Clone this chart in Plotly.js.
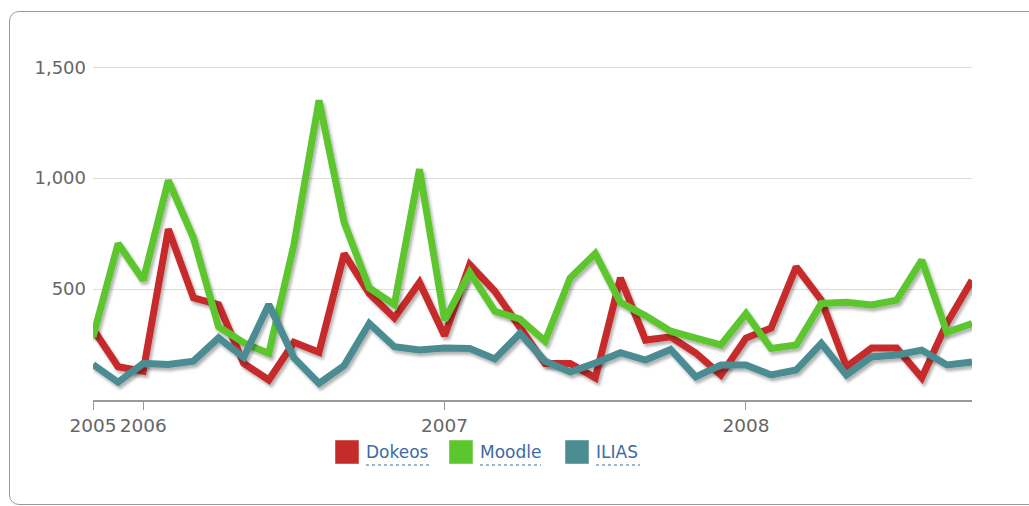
<!DOCTYPE html>
<html><head><meta charset="utf-8">
<script src="https://cdn.plot.ly/plotly-3.0.1.min.js"></script>
<style>
html,body{margin:0;padding:0;background:#fff;overflow:hidden}
#frame{position:absolute;left:9px;top:11px;width:1100px;height:494px;border:1px solid #999;border-radius:10px;box-sizing:border-box}
#chart{position:absolute;left:0;top:0;width:1029px;height:506px}
</style></head><body>
<div id="frame"></div>
<div id="chart"></div>
<script>
// ---- data ----
const months = [
  '2005-11','2005-12',
  '2006-01','2006-02','2006-03','2006-04','2006-05','2006-06','2006-07','2006-08','2006-09','2006-10','2006-11','2006-12',
  '2007-01','2007-02','2007-03','2007-04','2007-05','2007-06','2007-07','2007-08','2007-09','2007-10','2007-11','2007-12',
  '2008-01','2008-02','2008-03','2008-04','2008-05','2008-06','2008-07','2008-08','2008-09','2008-10'
];
const dokeos = [320,150,130,770,460,430,165,90,260,215,660,480,370,530,
                290,610,490,330,165,165,100,550,270,285,212,113,
                279,324,600,450,150,234,234,100,347,540];
const moodle = [285,705,540,990,730,330,258,210,700,1350,800,505,430,1040,
                360,575,400,365,265,550,660,440,380,310,279,248,
                390,232,248,435,441,428,450,630,305,345];
const ilias  = [160,80,165,160,175,280,192,430,190,75,155,345,240,225,
                234,232,185,300,175,126,167,213,180,228,104,158,
                158,113,135,255,113,194,203,225,158,171];
const seriesNames  = ['Dokeos','Moodle','ILIAS'];
const seriesValues = [dokeos, moodle, ilias];
const seriesColors = ['#c62b2b','#5dc62e','#4c8c93'];
const yTickVals  = [500,1000,1500];
const xTickMonths = ['2005-11','2006-01','2007-01','2008-01'];
const xTickText   = ['2005','2006','2007','2008'];

// ---- layout constants ----
const W = 1029, H = 506;
const M = {l:93, r:57, t:45, b:106};
const PW = W - M.l - M.r, PH = H - M.t - M.b;
const px = x => (x - M.l) / PW;
const py = y => (H - M.b - y) / PH;
const legendSquareX = [335, 449, 565];
const legendTextEnd = [429, 541, 640];
const legendY = 452, sq = 24;

const xIdx = months.map((m, i) => i);

const traces = seriesValues.map((vals, k) => ({
  type: 'scatter', mode: 'lines',
  x: xIdx, y: vals, name: seriesNames[k],
  line: {color: seriesColors[k], width: 7},
  hoverinfo: 'skip', showlegend: false
}));

const shapes = [], annotations = [];
seriesNames.forEach((n, k) => {
  const x0 = legendSquareX[k];
  shapes.push({type:'rect', xref:'paper', yref:'paper',
    x0: px(x0), x1: px(x0 + sq), y0: py(legendY + sq/2), y1: py(legendY - sq/2),
    fillcolor: seriesColors[k], line: {width: 1, color: 'rgba(255,255,255,0.45)'}});
  shapes.push({type:'line', xref:'paper', yref:'paper',
    x0: px(x0 + sq + 7), x1: px(legendTextEnd[k]), y0: py(legendY + 13), y1: py(legendY + 13),
    line: {width: 1.2, color: '#3c6aa5', dash: 'dot'}});
  annotations.push({xref:'paper', yref:'paper', x: px(x0 + sq + 5), y: py(legendY),
    xanchor:'left', yanchor:'middle', showarrow:false, text: n,
    font:{family:'DejaVu Sans', size:17, color:'#3c6aa5'}});
});

const layout = {
  width: W, height: H,
  margin: M,
  paper_bgcolor: 'rgba(0,0,0,0)', plot_bgcolor: 'rgba(0,0,0,0)',
  showlegend: false,
  font: {family: 'DejaVu Sans', color: '#666'},
  xaxis: {
    range: [0, months.length - 1], showgrid: false, zeroline: false,
    showline: true, linecolor: '#999', linewidth: 1.5,
    ticks: 'outside', ticklen: 8, tickcolor: '#999', tickwidth: 1,
    tickvals: xTickMonths.map(m => months.indexOf(m)), ticktext: xTickText,
    tickfont: {family: 'DejaVu Sans', size: 18.5, color: '#666'},
    fixedrange: true
  },
  yaxis: {
    range: [0, 1600], showgrid: true, gridcolor: '#dcdcdc', gridwidth: 1,
    zeroline: false, showline: false, ticks: '',
    tickvals: yTickVals, tickformat: ',d', ticklabelstandoff: 6,
    tickfont: {family: 'DejaVu Sans', size: 18, color: '#666'},
    fixedrange: true
  },
  shapes: shapes, annotations: annotations
};

Plotly.newPlot('chart', traces, layout, {displayModeBar: false, staticPlot: true}).then(gd => {
  // soft drop shadow under each line, as in the reference
  const svgNS = 'http://www.w3.org/2000/svg';
  const svg = gd.querySelector('svg.main-svg');
  let defs = svg.querySelector('defs');
  if (!defs) { defs = document.createElementNS(svgNS, 'defs'); svg.insertBefore(defs, svg.firstChild); }
  const f = document.createElementNS(svgNS, 'filter');
  f.setAttribute('id', 'lineShadow');
  f.setAttribute('x', '-10%'); f.setAttribute('y', '-20%');
  f.setAttribute('width', '130%'); f.setAttribute('height', '150%');
  const ds = document.createElementNS(svgNS, 'feDropShadow');
  ds.setAttribute('dx', '2'); ds.setAttribute('dy', '3');
  ds.setAttribute('stdDeviation', '1.5');
  ds.setAttribute('flood-color', '#000'); ds.setAttribute('flood-opacity', '0.3');
  f.appendChild(ds); defs.appendChild(f);
  gd.querySelectorAll('path.js-line').forEach(p => p.setAttribute('filter', 'url(#lineShadow)'));
});
</script>
</body></html>
